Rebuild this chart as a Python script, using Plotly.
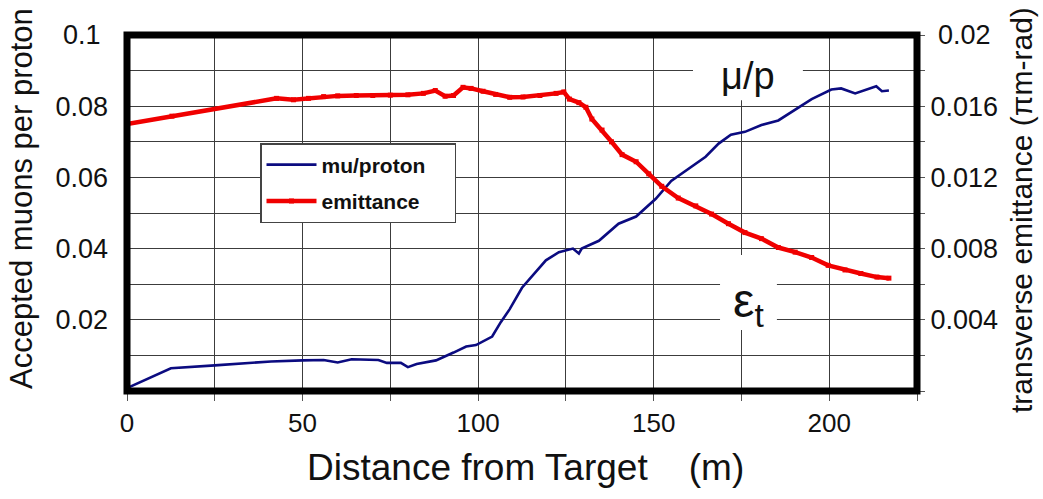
import plotly.graph_objects as go

# Accepted muons per proton along the channel (left axis)
distance_mu = [0, 5, 12.5, 25, 41, 50, 56, 60, 64, 71.6, 74, 78, 80, 82.5, 88, 93, 96.6,
               99.4, 104, 106.5, 109, 112.5, 116, 119.3, 123, 127, 128.7, 129.5, 134.4,
               140, 145, 150.6, 155, 160, 164.8, 168.5, 172, 176, 180.7, 185.5, 190, 195,
               200.6, 203.4, 207.4, 210, 213.4, 215, 217]
mu_per_proton = [0.0008, 0.003, 0.0064, 0.0072, 0.0083, 0.0086, 0.0087, 0.0080, 0.0089,
                 0.0087, 0.0079, 0.0079, 0.0067, 0.0076, 0.0086, 0.0108, 0.0125, 0.0129,
                 0.0153, 0.0194, 0.0230, 0.0290, 0.0330, 0.0367, 0.0390, 0.0400, 0.0386,
                 0.0400, 0.0422, 0.0470, 0.0490, 0.0540, 0.0590, 0.0625, 0.0658, 0.0695,
                 0.0720, 0.0728, 0.0747, 0.0760, 0.0789, 0.0820, 0.0847, 0.0850, 0.0836,
                 0.0844, 0.0856, 0.0842, 0.0844]

# Transverse emittance (pi m-rad) along the channel (right axis)
distance_eps = [0, 12.8, 42.6, 47.4, 51.7, 56, 60, 65.3, 70, 75, 80, 84.4, 87.8, 90.6, 93,
                95.7, 98, 101.4, 105, 109, 112.8, 117.6, 122.2, 124.4, 126, 128.7, 130.7,
                132.4, 135.3, 138, 141, 145, 148.6, 152.3, 157, 162, 166.5, 171.3, 176,
                180.7, 185.5, 190.3, 195, 199.7, 204.5, 209, 213.6, 217]
emittance = [0.0150, 0.01544, 0.01644, 0.01636, 0.01644, 0.01654, 0.01658, 0.0166, 0.0166,
             0.01662, 0.01664, 0.01672, 0.01688, 0.01656, 0.0166, 0.01706, 0.0170, 0.01684,
             0.01666, 0.0165, 0.01652, 0.0166, 0.01672, 0.0168, 0.0164, 0.0162, 0.01594,
             0.01528, 0.01466, 0.0140, 0.01328, 0.01288, 0.0122, 0.0115, 0.01084, 0.0104,
             0.00994, 0.0094, 0.0089, 0.00856, 0.00806, 0.0078, 0.0075, 0.00706, 0.0068,
             0.0066, 0.0064, 0.00634]

x_tick_vals = [0, 25, 50, 75, 100, 125, 150, 175, 200, 225]
x_tick_text = ["0", "", "50", "", "100", "", "150", "", "200", ""]
y_tick_vals = [round(0.01 * i, 3) for i in range(11)]
y_tick_text = ["", "", "0.02", "", "0.04", "", "0.06", "", "0.08", "", "0.1\u00a0"]
y2_tick_vals = [round(0.002 * i, 4) for i in range(11)]
y2_tick_text = ["", "", "0.004", "", "0.008", "", "0.012", "", "0.016", "", "\u00a00.02"]

FONT = "Arial, Liberation Sans, sans-serif"
INK = "#111111"
GRID = "#3c3c3c"

fig = go.Figure()
fig.add_trace(go.Scatter(
    x=distance_mu, y=mu_per_proton, name="mu/proton\u00a0\u00a0\u00a0\u00a0",
    legendgroup="mu", mode="lines", line=dict(color="#0b0b80", width=2.6), yaxis="y",
))
fig.add_trace(go.Scatter(
    x=distance_eps, y=emittance, name="emittance\u00a0\u00a0\u00a0\u00a0",
    legendgroup="eps", mode="lines+markers", line=dict(color="#f00000", width=4.5),
    marker=dict(symbol="square", size=5, color="#f00000"), yaxis="y2",
))

fig.update_layout(
    width=1043, height=499,
    margin=dict(l=127, r=126, t=35, b=108),
    paper_bgcolor="white", plot_bgcolor="white",
    font=dict(family=FONT, color=INK, size=27),
    showlegend=True,
    legend=dict(
        x=(260 - 127) / 790, y=(391 - 143) / 356, xanchor="left", yanchor="top",
        bgcolor="white", bordercolor="#444444", borderwidth=1.5,
        font=dict(family=FONT, size=21, color=INK, weight="bold"),
        itemwidth=50, tracegroupgap=6,
    ),
    xaxis=dict(
        range=[0, 225], tickmode="array", tickvals=x_tick_vals, ticktext=x_tick_text,
        showgrid=True, gridcolor=GRID, gridwidth=1, zeroline=False,
        ticks="outside", ticklen=9, tickwidth=1, tickcolor="#555555",
        showline=False, tickfont=dict(size=26),
    ),
    yaxis=dict(
        range=[0, 0.1], tickmode="array", tickvals=y_tick_vals, ticktext=y_tick_text,
        showgrid=True, gridcolor=GRID, gridwidth=1, zeroline=False,
        ticks="", showline=False, tickfont=dict(size=27), ticklabelstandoff=18,
    ),
    yaxis2=dict(
        range=[0, 0.02], overlaying="y", side="right", anchor="x",
        tickmode="array", tickvals=y2_tick_vals, ticktext=y2_tick_text,
        showgrid=False, zeroline=False,
        ticks="outside", ticklen=7, tickwidth=1, tickcolor="#555555",
        showline=False, tickfont=dict(size=27),
    ),
)

# Heavy frame around the plotting area
fig.add_shape(type="rect", xref="paper", yref="paper", x0=0, x1=1, y0=0, y1=1,
              line=dict(color="black", width=7), layer="above")

# White patches behind the curve labels, covering the grid
fig.add_shape(type="rect", xref="x", yref="y", x0=161.2, x1=192.5, y0=0.0817, y1=0.1,
              fillcolor="white", line=dict(width=0), layer="between")
fig.add_shape(type="rect", xref="x", yref="y", x0=168.9, x1=185.1, y0=0.0171, y1=0.0382,
              fillcolor="white", line=dict(width=0), layer="between")

fig.add_annotation(x=176.9, y=0.0885, xref="x", yref="y", text="\u03bc/p",
                   xanchor="center", yanchor="middle",
                   showarrow=False, font=dict(size=38, color=INK, family=FONT))
fig.add_annotation(x=176.9, y=0.0245, xref="x", yref="y", text="\u03b5<sub>t</sub>",
                   xanchor="center", yanchor="middle",
                   showarrow=False, font=dict(size=48, color=INK, family=FONT))

# Axis titles
fig.add_annotation(x=(21 - 127) / 790, y=(391 - 199) / 356, xref="paper", yref="paper",
                   xanchor="center", yanchor="middle",
                   text="Accepted muons per proton", textangle=-90, showarrow=False,
                   font=dict(size=31, color=INK, family=FONT))
fig.add_annotation(x=(1021 - 127) / 790, y=(391 - 210) / 356, xref="paper", yref="paper",
                   xanchor="center", yanchor="middle",
                   text="transverse emittance (\u03c0m-rad)", textangle=-90, showarrow=False,
                   font=dict(size=30, color=INK, family=FONT))
fig.add_annotation(x=(525 - 127) / 790, y=(391 - 467) / 356, xref="paper", yref="paper",
                   xanchor="center", yanchor="middle",
                   text="Distance from Target\u00a0\u00a0\u00a0\u00a0(m)", showarrow=False,
                   font=dict(size=37, color=INK, family=FONT))

fig.write_html("out.html")
